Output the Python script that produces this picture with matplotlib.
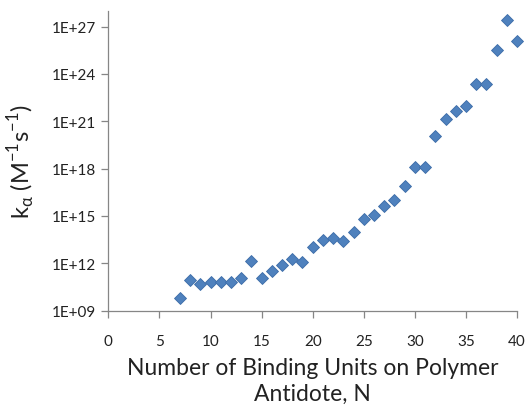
import numpy as np
import matplotlib.pyplot as plt
from matplotlib.ticker import FixedLocator, NullLocator

plt.rcParams['font.family'] = ['Lato', 'DejaVu Sans']

# binding units on the polymer antidote
n_units = [7, 8, 9, 10, 11, 12, 13, 14, 15, 16, 17, 18, 19, 20,
           21, 22, 23, 24, 25, 26, 27, 28, 29, 30, 31, 32, 33, 34,
           35, 36, 37, 38, 39, 40]
# log10 of ka
log_ka = [9.79, 10.94, 10.68, 10.79, 10.83, 10.79, 11.07, 12.15, 11.05, 11.53,
          11.91, 12.25, 12.06, 13.06, 13.46, 13.59, 13.40, 13.97, 14.82, 15.09,
          15.66, 16.00, 16.91, 18.10, 18.10, 20.09, 21.13, 21.64, 21.96, 23.36,
          23.36, 25.54, 27.42, 26.11]
ytick_exp = [9, 12, 15, 18, 21, 24, 27]
xticks = [0, 5, 10, 15, 20, 25, 30, 35, 40]

ka = 10.0 ** np.array(log_ka)

fig = plt.figure(figsize=(5.26, 4.10), dpi=100)
ax = fig.add_axes([0.206, 0.240, 0.777, 0.731])

ax.plot(n_units, ka, 'D', ms=5.8, color='#4F81BD', mec='#3C6CA8', mew=0.6,
        clip_on=False, zorder=3)

ax.set_yscale('log')
ax.set_ylim(1e9, 1e28)
ax.set_xlim(0, 40)
ax.yaxis.set_major_locator(FixedLocator([10.0 ** e for e in ytick_exp]))
ax.yaxis.set_minor_locator(NullLocator())
ax.set_yticklabels(['1E+%02d' % e for e in ytick_exp])
ax.set_xticks(xticks)

for side in ['top', 'right']:
    ax.spines[side].set_visible(False)
for side in ['left', 'bottom']:
    ax.spines[side].set_color('#868686')
    ax.spines[side].set_linewidth(0.9)
ax.tick_params(direction='out', length=5, width=0.9, color='#868686',
               labelsize=11, labelcolor='#222222', pad=4)
ax.tick_params(axis='x', pad=12)

ax.set_xlabel('Number of Binding Units on Polymer\nAntidote, N',
              fontsize=16.5, color='#222222', labelpad=6, linespacing=1.3)
ax.set_ylabel(r'k$_\mathregular{\alpha}$ (M$^\mathregular{-1}$s$^\mathregular{-1}$)',
              fontsize=17, color='#222222', labelpad=10)

fig.savefig('out.png', dpi=100)
